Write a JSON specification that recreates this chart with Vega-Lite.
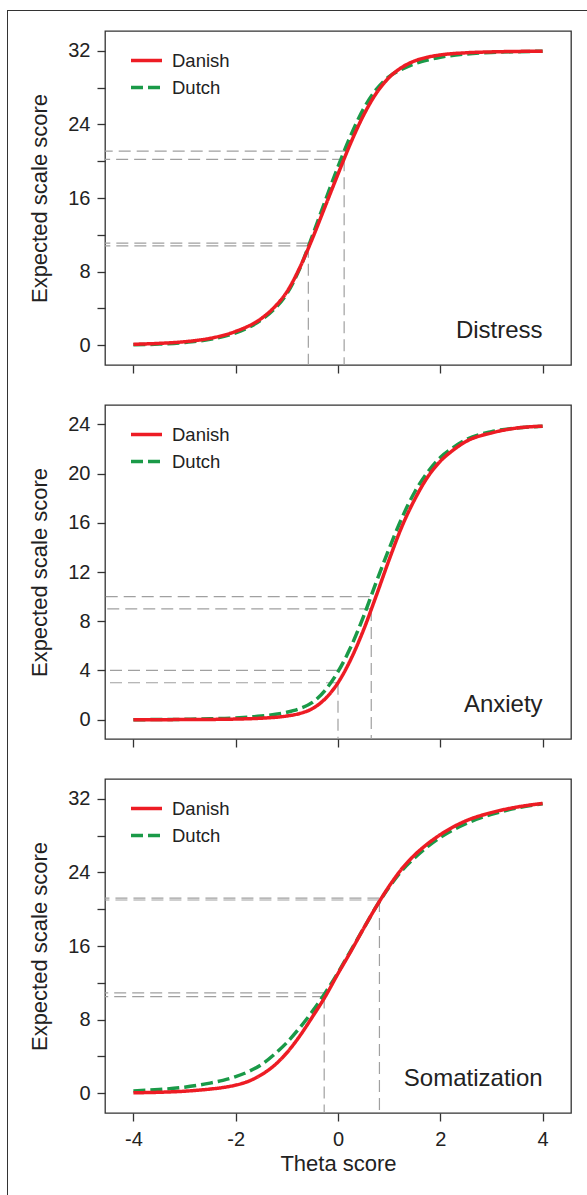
{
"$schema": "https://vega.github.io/schema/vega-lite/v6.json",
"padding": {"left": 7, "top": 10, "right": 0, "bottom": 0},
"background": "white",
"config": {
  "font": "Liberation Sans",
  "axis": {"domain": false, "grid": false, "tickColor": "#333", "tickWidth": 1.3, "tickSize": 8, "labelColor": "#222", "labelFontSize": 20, "titleFontSize": 22, "titleFontWeight": "normal", "titleColor": "#222"},
  "legend": {"title": null, "orient": "none", "legendX": 24, "legendY": 12, "symbolType": "stroke", "symbolSize": 961, "symbolStrokeWidth": 3.5, "labelFontSize": 18.5, "labelOffset": 8, "rowPadding": 0, "padding": 0, "labelColor": "#222"}
},
"datasets": {
  "curves": [
    {"panel":"Distress","country":"Danish","theta":-4,"score":0.1},
    {"panel":"Distress","country":"Danish","theta":-3.5,"score":0.2},
    {"panel":"Distress","country":"Danish","theta":-3,"score":0.38},
    {"panel":"Distress","country":"Danish","theta":-2.5,"score":0.75},
    {"panel":"Distress","country":"Danish","theta":-2,"score":1.5},
    {"panel":"Distress","country":"Danish","theta":-1.5,"score":2.9},
    {"panel":"Distress","country":"Danish","theta":-1.25,"score":4.1},
    {"panel":"Distress","country":"Danish","theta":-1,"score":5.8},
    {"panel":"Distress","country":"Danish","theta":-0.75,"score":8.4},
    {"panel":"Distress","country":"Danish","theta":-0.5,"score":11.6},
    {"panel":"Distress","country":"Danish","theta":-0.25,"score":15.1},
    {"panel":"Distress","country":"Danish","theta":0,"score":18.6},
    {"panel":"Distress","country":"Danish","theta":0.25,"score":22.0},
    {"panel":"Distress","country":"Danish","theta":0.5,"score":25.0},
    {"panel":"Distress","country":"Danish","theta":0.75,"score":27.4},
    {"panel":"Distress","country":"Danish","theta":1,"score":29.1},
    {"panel":"Distress","country":"Danish","theta":1.25,"score":30.2},
    {"panel":"Distress","country":"Danish","theta":1.5,"score":30.9},
    {"panel":"Distress","country":"Danish","theta":1.75,"score":31.3},
    {"panel":"Distress","country":"Danish","theta":2,"score":31.55},
    {"panel":"Distress","country":"Danish","theta":2.5,"score":31.78},
    {"panel":"Distress","country":"Danish","theta":3,"score":31.88},
    {"panel":"Distress","country":"Danish","theta":3.5,"score":31.93},
    {"panel":"Distress","country":"Danish","theta":4,"score":31.96},
    {"panel":"Distress","country":"Dutch","theta":-4,"score":0.05},
    {"panel":"Distress","country":"Dutch","theta":-3.5,"score":0.12},
    {"panel":"Distress","country":"Dutch","theta":-3,"score":0.3},
    {"panel":"Distress","country":"Dutch","theta":-2.5,"score":0.65},
    {"panel":"Distress","country":"Dutch","theta":-2,"score":1.35},
    {"panel":"Distress","country":"Dutch","theta":-1.5,"score":2.75},
    {"panel":"Distress","country":"Dutch","theta":-1.25,"score":3.9},
    {"panel":"Distress","country":"Dutch","theta":-1,"score":5.6},
    {"panel":"Distress","country":"Dutch","theta":-0.75,"score":8.3},
    {"panel":"Distress","country":"Dutch","theta":-0.5,"score":11.9},
    {"panel":"Distress","country":"Dutch","theta":-0.25,"score":15.7},
    {"panel":"Distress","country":"Dutch","theta":0,"score":19.4},
    {"panel":"Distress","country":"Dutch","theta":0.25,"score":22.8},
    {"panel":"Distress","country":"Dutch","theta":0.5,"score":25.7},
    {"panel":"Distress","country":"Dutch","theta":0.75,"score":27.8},
    {"panel":"Distress","country":"Dutch","theta":1,"score":29.2},
    {"panel":"Distress","country":"Dutch","theta":1.25,"score":30.0},
    {"panel":"Distress","country":"Dutch","theta":1.5,"score":30.6},
    {"panel":"Distress","country":"Dutch","theta":1.75,"score":31.0},
    {"panel":"Distress","country":"Dutch","theta":2,"score":31.3},
    {"panel":"Distress","country":"Dutch","theta":2.5,"score":31.65},
    {"panel":"Distress","country":"Dutch","theta":3,"score":31.82},
    {"panel":"Distress","country":"Dutch","theta":3.5,"score":31.9},
    {"panel":"Distress","country":"Dutch","theta":4,"score":31.95},
    {"panel":"Anxiety","country":"Danish","theta":-4,"score":0.0},
    {"panel":"Anxiety","country":"Danish","theta":-3.5,"score":0.0},
    {"panel":"Anxiety","country":"Danish","theta":-3,"score":0.01},
    {"panel":"Anxiety","country":"Danish","theta":-2.5,"score":0.02},
    {"panel":"Anxiety","country":"Danish","theta":-2,"score":0.05},
    {"panel":"Anxiety","country":"Danish","theta":-1.5,"score":0.12},
    {"panel":"Anxiety","country":"Danish","theta":-1,"score":0.3},
    {"panel":"Anxiety","country":"Danish","theta":-0.75,"score":0.5},
    {"panel":"Anxiety","country":"Danish","theta":-0.5,"score":0.9},
    {"panel":"Anxiety","country":"Danish","theta":-0.25,"score":1.7},
    {"panel":"Anxiety","country":"Danish","theta":0,"score":3.0},
    {"panel":"Anxiety","country":"Danish","theta":0.25,"score":4.9},
    {"panel":"Anxiety","country":"Danish","theta":0.5,"score":7.3},
    {"panel":"Anxiety","country":"Danish","theta":0.75,"score":10.1},
    {"panel":"Anxiety","country":"Danish","theta":1,"score":13.0},
    {"panel":"Anxiety","country":"Danish","theta":1.25,"score":15.7},
    {"panel":"Anxiety","country":"Danish","theta":1.5,"score":17.9},
    {"panel":"Anxiety","country":"Danish","theta":1.75,"score":19.7},
    {"panel":"Anxiety","country":"Danish","theta":2,"score":21.0},
    {"panel":"Anxiety","country":"Danish","theta":2.25,"score":21.9},
    {"panel":"Anxiety","country":"Danish","theta":2.5,"score":22.6},
    {"panel":"Anxiety","country":"Danish","theta":3,"score":23.3},
    {"panel":"Anxiety","country":"Danish","theta":3.5,"score":23.7},
    {"panel":"Anxiety","country":"Danish","theta":4,"score":23.85},
    {"panel":"Anxiety","country":"Dutch","theta":-4,"score":0.0},
    {"panel":"Anxiety","country":"Dutch","theta":-3.5,"score":0.01},
    {"panel":"Anxiety","country":"Dutch","theta":-3,"score":0.03},
    {"panel":"Anxiety","country":"Dutch","theta":-2.5,"score":0.07},
    {"panel":"Anxiety","country":"Dutch","theta":-2,"score":0.14},
    {"panel":"Anxiety","country":"Dutch","theta":-1.5,"score":0.3},
    {"panel":"Anxiety","country":"Dutch","theta":-1,"score":0.6},
    {"panel":"Anxiety","country":"Dutch","theta":-0.75,"score":0.9},
    {"panel":"Anxiety","country":"Dutch","theta":-0.5,"score":1.4},
    {"panel":"Anxiety","country":"Dutch","theta":-0.25,"score":2.4},
    {"panel":"Anxiety","country":"Dutch","theta":0,"score":3.9},
    {"panel":"Anxiety","country":"Dutch","theta":0.25,"score":5.9},
    {"panel":"Anxiety","country":"Dutch","theta":0.5,"score":8.4},
    {"panel":"Anxiety","country":"Dutch","theta":0.75,"score":11.2},
    {"panel":"Anxiety","country":"Dutch","theta":1,"score":13.9},
    {"panel":"Anxiety","country":"Dutch","theta":1.25,"score":16.4},
    {"panel":"Anxiety","country":"Dutch","theta":1.5,"score":18.5},
    {"panel":"Anxiety","country":"Dutch","theta":1.75,"score":20.1},
    {"panel":"Anxiety","country":"Dutch","theta":2,"score":21.3},
    {"panel":"Anxiety","country":"Dutch","theta":2.25,"score":22.1},
    {"panel":"Anxiety","country":"Dutch","theta":2.5,"score":22.75},
    {"panel":"Anxiety","country":"Dutch","theta":3,"score":23.4},
    {"panel":"Anxiety","country":"Dutch","theta":3.5,"score":23.7},
    {"panel":"Anxiety","country":"Dutch","theta":4,"score":23.85},
    {"panel":"Somatization","country":"Danish","theta":-4,"score":0.05},
    {"panel":"Somatization","country":"Danish","theta":-3.5,"score":0.1},
    {"panel":"Somatization","country":"Danish","theta":-3,"score":0.22},
    {"panel":"Somatization","country":"Danish","theta":-2.75,"score":0.32},
    {"panel":"Somatization","country":"Danish","theta":-2.5,"score":0.45},
    {"panel":"Somatization","country":"Danish","theta":-2.25,"score":0.62},
    {"panel":"Somatization","country":"Danish","theta":-2,"score":0.88},
    {"panel":"Somatization","country":"Danish","theta":-1.75,"score":1.3},
    {"panel":"Somatization","country":"Danish","theta":-1.5,"score":2.0},
    {"panel":"Somatization","country":"Danish","theta":-1.25,"score":3.0},
    {"panel":"Somatization","country":"Danish","theta":-1,"score":4.4},
    {"panel":"Somatization","country":"Danish","theta":-0.75,"score":6.2},
    {"panel":"Somatization","country":"Danish","theta":-0.5,"score":8.3},
    {"panel":"Somatization","country":"Danish","theta":-0.25,"score":10.5},
    {"panel":"Somatization","country":"Danish","theta":0,"score":13.0},
    {"panel":"Somatization","country":"Danish","theta":0.25,"score":15.4},
    {"panel":"Somatization","country":"Danish","theta":0.5,"score":17.9},
    {"panel":"Somatization","country":"Danish","theta":0.75,"score":20.3},
    {"panel":"Somatization","country":"Danish","theta":1,"score":22.5},
    {"panel":"Somatization","country":"Danish","theta":1.25,"score":24.4},
    {"panel":"Somatization","country":"Danish","theta":1.5,"score":25.9},
    {"panel":"Somatization","country":"Danish","theta":1.75,"score":27.1},
    {"panel":"Somatization","country":"Danish","theta":2,"score":28.1},
    {"panel":"Somatization","country":"Danish","theta":2.5,"score":29.6},
    {"panel":"Somatization","country":"Danish","theta":3,"score":30.5},
    {"panel":"Somatization","country":"Danish","theta":3.5,"score":31.1},
    {"panel":"Somatization","country":"Danish","theta":4,"score":31.5},
    {"panel":"Somatization","country":"Dutch","theta":-4,"score":0.25},
    {"panel":"Somatization","country":"Dutch","theta":-3.5,"score":0.4},
    {"panel":"Somatization","country":"Dutch","theta":-3,"score":0.65},
    {"panel":"Somatization","country":"Dutch","theta":-2.75,"score":0.85},
    {"panel":"Somatization","country":"Dutch","theta":-2.5,"score":1.1},
    {"panel":"Somatization","country":"Dutch","theta":-2.25,"score":1.4},
    {"panel":"Somatization","country":"Dutch","theta":-2,"score":1.8},
    {"panel":"Somatization","country":"Dutch","theta":-1.75,"score":2.35},
    {"panel":"Somatization","country":"Dutch","theta":-1.5,"score":3.1},
    {"panel":"Somatization","country":"Dutch","theta":-1.25,"score":4.2},
    {"panel":"Somatization","country":"Dutch","theta":-1,"score":5.5},
    {"panel":"Somatization","country":"Dutch","theta":-0.75,"score":7.1},
    {"panel":"Somatization","country":"Dutch","theta":-0.5,"score":8.9},
    {"panel":"Somatization","country":"Dutch","theta":-0.25,"score":10.9},
    {"panel":"Somatization","country":"Dutch","theta":0,"score":13.1},
    {"panel":"Somatization","country":"Dutch","theta":0.25,"score":15.5},
    {"panel":"Somatization","country":"Dutch","theta":0.5,"score":17.9},
    {"panel":"Somatization","country":"Dutch","theta":0.75,"score":20.3},
    {"panel":"Somatization","country":"Dutch","theta":1,"score":22.4},
    {"panel":"Somatization","country":"Dutch","theta":1.25,"score":24.2},
    {"panel":"Somatization","country":"Dutch","theta":1.5,"score":25.6},
    {"panel":"Somatization","country":"Dutch","theta":1.75,"score":26.8},
    {"panel":"Somatization","country":"Dutch","theta":2,"score":27.8},
    {"panel":"Somatization","country":"Dutch","theta":2.5,"score":29.3},
    {"panel":"Somatization","country":"Dutch","theta":3,"score":30.3},
    {"panel":"Somatization","country":"Dutch","theta":3.5,"score":31.0},
    {"panel":"Somatization","country":"Dutch","theta":4,"score":31.45}
  ],
  "hrefs": [
    {"panel":"Distress","theta":-0.58,"score":10.8},
    {"panel":"Distress","theta":-0.58,"score":11.1},
    {"panel":"Distress","theta":0.12,"score":20.2},
    {"panel":"Distress","theta":0.17,"score":21.1},
    {"panel":"Anxiety","theta":0,"score":3.0},
    {"panel":"Anxiety","theta":0,"score":4.0},
    {"panel":"Anxiety","theta":0.65,"score":9.0},
    {"panel":"Anxiety","theta":0.62,"score":10.0},
    {"panel":"Somatization","theta":-0.27,"score":10.5},
    {"panel":"Somatization","theta":-0.27,"score":10.9},
    {"panel":"Somatization","theta":0.81,"score":21.0},
    {"panel":"Somatization","theta":0.81,"score":21.2}
  ],
  "vrefs": [
    {"panel":"Distress","theta":-0.58,"score":10.8},
    {"panel":"Distress","theta":0.12,"score":20.2},
    {"panel":"Anxiety","theta":0,"score":3.0},
    {"panel":"Anxiety","theta":0.65,"score":9.0},
    {"panel":"Somatization","theta":-0.27,"score":10.5},
    {"panel":"Somatization","theta":0.81,"score":21.0}
  ]
},
"spacing": 0,
"vconcat": [
  {"width": 600, "height": 1, "view": {"fill": "#333", "stroke": null}, "data": {"values": []}, "mark": "point", "encoding": {}},
  {
    "spacing": 20,
    "hconcat": [
      {"width": 1, "height": 1200, "view": {"fill": "#333", "stroke": null}, "data": {"values": []}, "mark": "point", "encoding": {}},
      {
        "spacing": 18,
        "vconcat": [
          {"width": 1, "height": 1, "view": {"stroke": null}, "data": {"values": []}, "mark": "point", "encoding": {}},
          {
            "spacing": 40,
            "bounds": "flush",
            "resolve": {"scale": {"x": "independent", "y": "independent", "color": "independent", "strokeDash": "independent"}, "axis": {"x": "independent", "y": "independent"}, "legend": {"color": "independent", "strokeDash": "independent"}},
            "vconcat": [
              {
                "width": 466, "height": 334,
                "view": {"stroke": "#333", "strokeWidth": 1.3},
                "layer": [
                  {
                    "encoding": {
                      "x": {"field": "theta", "type": "quantitative", "scale": {"domain": [-4.555, 4.555], "nice": false, "zero": false}, "axis": {"values": [-4, -2, 0, 2, 4], "labels": false, "title": null}},
                      "y": {"field": "score", "type": "quantitative", "scale": {"domain": [-2.15, 34.15], "nice": false, "zero": false}, "axis": {"values": [0, 4, 8, 12, 16, 20, 24, 28, 32], "labelExpr": "datum.value % 8 === 0 ? datum.label : ''", "title": "Expected scale score", "labelPadding": 7, "titlePadding": 16}}
                    },
                    "layer": [
                      {"data": {"name": "hrefs"}, "transform": [{"filter": "datum.panel === 'Distress'"}], "mark": {"type": "rule", "clip": true, "color": "#a0a0a0", "strokeWidth": 1.2, "strokeDash": [12, 6]}, "encoding": {"x2": {"datum": -6}}},
                      {"data": {"name": "vrefs"}, "transform": [{"filter": "datum.panel === 'Distress'"}], "mark": {"type": "rule", "clip": true, "color": "#a0a0a0", "strokeWidth": 1.2, "strokeDash": [12, 6]}, "encoding": {"y2": {"datum": -6}}},
                      {"data": {"name": "curves"}, "transform": [{"filter": "datum.panel === 'Distress' && datum.country === 'Dutch'"}], "mark": {"type": "line", "strokeWidth": 3.5, "interpolate": "monotone", "strokeCap": "butt"},
                       "encoding": {"color": {"field": "country", "type": "nominal", "scale": {"domain": ["Danish", "Dutch"], "range": ["#ed1c24", "#1a9a48"]}}, "strokeDash": {"field": "country", "type": "nominal", "scale": {"domain": ["Danish", "Dutch"], "range": [[1, 0], [12, 5]]}}}},
                      {"data": {"name": "curves"}, "transform": [{"filter": "datum.panel === 'Distress' && datum.country === 'Danish'"}], "mark": {"type": "line", "strokeWidth": 3.5, "interpolate": "monotone", "strokeCap": "butt"},
                       "encoding": {"color": {"field": "country", "type": "nominal", "scale": {"domain": ["Danish", "Dutch"], "range": ["#ed1c24", "#1a9a48"]}}, "strokeDash": {"field": "country", "type": "nominal", "scale": {"domain": ["Danish", "Dutch"], "range": [[1, 0], [12, 5]]}}}}
                    ]
                  },
                  {"data": {"values": [{"label": "Distress"}]}, "mark": {"type": "text", "align": "right", "baseline": "alphabetic", "fontSize": 24, "color": "#222"}, "encoding": {"x": {"datum": 4, "type": "quantitative"}, "y": {"datum": 0.75, "type": "quantitative"}, "text": {"field": "label", "type": "nominal"}}}
                ]
              },
              {
                "width": 466, "height": 334,
                "view": {"stroke": "#333", "strokeWidth": 1.3},
                "layer": [
                  {
                    "encoding": {
                      "x": {"field": "theta", "type": "quantitative", "scale": {"domain": [-4.555, 4.555], "nice": false, "zero": false}, "axis": {"values": [-4, -2, 0, 2, 4], "labels": false, "title": null}},
                      "y": {"field": "score", "type": "quantitative", "scale": {"domain": [-1.57, 25.57], "nice": false, "zero": false}, "axis": {"values": [0, 4, 8, 12, 16, 20, 24], "title": "Expected scale score", "labelPadding": 7, "titlePadding": 16}}
                    },
                    "layer": [
                      {"data": {"name": "hrefs"}, "transform": [{"filter": "datum.panel === 'Anxiety'"}], "mark": {"type": "rule", "clip": true, "color": "#a0a0a0", "strokeWidth": 1.2, "strokeDash": [12, 6]}, "encoding": {"x2": {"datum": -6}}},
                      {"data": {"name": "vrefs"}, "transform": [{"filter": "datum.panel === 'Anxiety'"}], "mark": {"type": "rule", "clip": true, "color": "#a0a0a0", "strokeWidth": 1.2, "strokeDash": [12, 6]}, "encoding": {"y2": {"datum": -6}}},
                      {"data": {"name": "curves"}, "transform": [{"filter": "datum.panel === 'Anxiety' && datum.country === 'Dutch'"}], "mark": {"type": "line", "strokeWidth": 3.5, "interpolate": "monotone", "strokeCap": "butt"},
                       "encoding": {"color": {"field": "country", "type": "nominal", "scale": {"domain": ["Danish", "Dutch"], "range": ["#ed1c24", "#1a9a48"]}}, "strokeDash": {"field": "country", "type": "nominal", "scale": {"domain": ["Danish", "Dutch"], "range": [[1, 0], [12, 5]]}}}},
                      {"data": {"name": "curves"}, "transform": [{"filter": "datum.panel === 'Anxiety' && datum.country === 'Danish'"}], "mark": {"type": "line", "strokeWidth": 3.5, "interpolate": "monotone", "strokeCap": "butt"},
                       "encoding": {"color": {"field": "country", "type": "nominal", "scale": {"domain": ["Danish", "Dutch"], "range": ["#ed1c24", "#1a9a48"]}}, "strokeDash": {"field": "country", "type": "nominal", "scale": {"domain": ["Danish", "Dutch"], "range": [[1, 0], [12, 5]]}}}}
                    ]
                  },
                  {"data": {"values": [{"label": "Anxiety"}]}, "mark": {"type": "text", "align": "right", "baseline": "alphabetic", "fontSize": 24, "color": "#222"}, "encoding": {"x": {"datum": 4, "type": "quantitative"}, "y": {"datum": 0.6, "type": "quantitative"}, "text": {"field": "label", "type": "nominal"}}}
                ]
              },
              {
                "width": 466, "height": 334,
                "view": {"stroke": "#333", "strokeWidth": 1.3},
                "layer": [
                  {
                    "encoding": {
                      "x": {"field": "theta", "type": "quantitative", "scale": {"domain": [-4.555, 4.555], "nice": false, "zero": false}, "axis": {"values": [-4, -2, 0, 2, 4], "labelExpr": "'' + datum.value", "title": "Theta score", "labelPadding": 8, "titlePadding": 4}},
                      "y": {"field": "score", "type": "quantitative", "scale": {"domain": [-2.15, 34.15], "nice": false, "zero": false}, "axis": {"values": [0, 4, 8, 12, 16, 20, 24, 28, 32], "labelExpr": "datum.value % 8 === 0 ? datum.label : ''", "title": "Expected scale score", "labelPadding": 7, "titlePadding": 16}}
                    },
                    "layer": [
                      {"data": {"name": "hrefs"}, "transform": [{"filter": "datum.panel === 'Somatization'"}], "mark": {"type": "rule", "clip": true, "color": "#a0a0a0", "strokeWidth": 1.2, "strokeDash": [12, 6]}, "encoding": {"x2": {"datum": -6}}},
                      {"data": {"name": "vrefs"}, "transform": [{"filter": "datum.panel === 'Somatization'"}], "mark": {"type": "rule", "clip": true, "color": "#a0a0a0", "strokeWidth": 1.2, "strokeDash": [12, 6]}, "encoding": {"y2": {"datum": -6}}},
                      {"data": {"name": "curves"}, "transform": [{"filter": "datum.panel === 'Somatization' && datum.country === 'Dutch'"}], "mark": {"type": "line", "strokeWidth": 3.5, "interpolate": "monotone", "strokeCap": "butt"},
                       "encoding": {"color": {"field": "country", "type": "nominal", "scale": {"domain": ["Danish", "Dutch"], "range": ["#ed1c24", "#1a9a48"]}}, "strokeDash": {"field": "country", "type": "nominal", "scale": {"domain": ["Danish", "Dutch"], "range": [[1, 0], [12, 5]]}}}},
                      {"data": {"name": "curves"}, "transform": [{"filter": "datum.panel === 'Somatization' && datum.country === 'Danish'"}], "mark": {"type": "line", "strokeWidth": 3.5, "interpolate": "monotone", "strokeCap": "butt"},
                       "encoding": {"color": {"field": "country", "type": "nominal", "scale": {"domain": ["Danish", "Dutch"], "range": ["#ed1c24", "#1a9a48"]}}, "strokeDash": {"field": "country", "type": "nominal", "scale": {"domain": ["Danish", "Dutch"], "range": [[1, 0], [12, 5]]}}}}
                    ]
                  },
                  {"data": {"values": [{"label": "Somatization"}]}, "mark": {"type": "text", "align": "right", "baseline": "alphabetic", "fontSize": 24, "color": "#222"}, "encoding": {"x": {"datum": 4, "type": "quantitative"}, "y": {"datum": 0.8, "type": "quantitative"}, "text": {"field": "label", "type": "nominal"}}}
                ]
              }
            ]
          }
        ]
      }
    ]
  }
]
}
